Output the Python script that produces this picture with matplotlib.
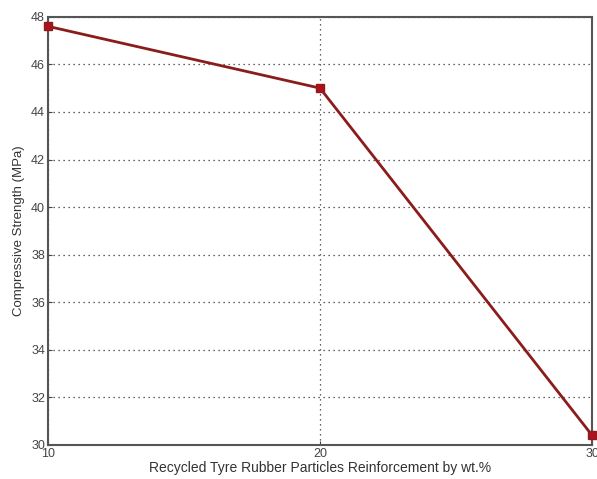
import matplotlib.pyplot as plt

# datos
refuerzo = [10, 20, 30]
resistencia = [47.6, 45.0, 30.4]
ticks_x = [10, 20, 30]
ticks_y = [30, 32, 34, 36, 38, 40, 42, 44, 46, 48]

plt.rcParams['font.family'] = ['Liberation Sans', 'DejaVu Sans']

fig = plt.figure(figsize=(5.97, 4.79), dpi=100)
ax = fig.add_axes([0.080, 0.071, 0.912, 0.894])

ax.plot(refuerzo, resistencia, '-', color='#8b1c1c', linewidth=2,
        marker='s', markersize=6, markerfacecolor='#b0101e', markeredgecolor='#8b1c1c',
        clip_on=False, zorder=5)

ax.set_xlim(10, 30)
ax.set_ylim(30, 48)
ax.set_xticks(ticks_x)
ax.set_yticks(ticks_y)
ax.grid(True, linestyle=(0, (1, 3)), color='#333333', linewidth=0.9)
ax.tick_params(labelsize=9, colors='#444444', direction='in', length=3, pad=2)
for s in ax.spines.values():
    s.set_color('#555555')
    s.set_linewidth(1.5)

ax.set_xlabel('Recycled Tyre Rubber Particles Reinforcement by wt.%', fontsize=10,
              color='#333333', labelpad=1)
ax.set_ylabel('Compressive Strength (MPa)', fontsize=9.5, color='#333333', labelpad=4)

plt.savefig('out.png', dpi=100)
